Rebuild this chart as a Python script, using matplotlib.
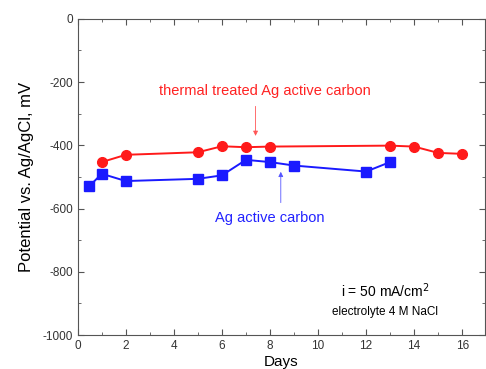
import matplotlib.pyplot as plt
from matplotlib.ticker import MultipleLocator

plt.rcParams['font.family'] = ['Liberation Sans', 'DejaVu Sans']
plt.rcParams['axes.unicode_minus'] = False

#values
red_days = [1, 2, 5, 6, 7, 8, 13, 14, 15, 16]
red_mv = [-453, -430, -422, -403, -406, -404, -401, -404, -424, -427]

blue_days = [0.47, 1, 2, 5, 6, 7, 8, 9, 12, 13]
blue_mv = [-530, -490, -513, -506, -495, -446, -453, -464, -483, -453]

fig = plt.figure(figsize=(4.86, 3.69), dpi=100)
ax = fig.add_axes([0.160, 0.092, 0.838, 0.857])

ax.plot(red_days, red_mv, color='#ff1a1a', marker='o', markersize=7, linewidth=1.4)
ax.plot(blue_days, blue_mv, color='#1a1aff', marker='s', markersize=6.5, linewidth=1.4)

ax.set_xlim(0, 16.95)
ax.set_ylim(-1000, 0)
ax.xaxis.set_major_locator(MultipleLocator(2))
ax.xaxis.set_minor_locator(MultipleLocator(1))
ax.yaxis.set_major_locator(MultipleLocator(200))
ax.yaxis.set_minor_locator(MultipleLocator(100))
ax.tick_params(which='both', direction='in', top=True, right=True, labelsize=8.5,
               color='#555555', labelcolor='#333333')
ax.tick_params(which='major', length=4)
ax.tick_params(which='minor', length=2)
for s in ax.spines.values():
    s.set_color('#555555')

ax.set_xlabel('Days', fontsize=11, labelpad=2)
ax.set_ylabel('Potential vs. Ag/AgCl, mV', fontsize=12, labelpad=6)

#annotations
ax.annotate('', xy=(7.4, -379), xytext=(7.4, -268),
            arrowprops=dict(arrowstyle='-|>', color='#ff5555', lw=0.6, mutation_scale=7))
ax.text(7.8, -227, 'thermal treated Ag active carbon', color='#ff2222', fontsize=10.5, ha='center', va='center')
ax.annotate('', xy=(8.45, -475), xytext=(8.45, -590),
            arrowprops=dict(arrowstyle='-|>', color='#5555ff', lw=0.6, mutation_scale=7))
ax.text(8.0, -630, 'Ag active carbon', color='#2222ff', fontsize=10.5, ha='center', va='center')

ax.text(12.8, -860, 'i = 50 mA/cm$^2$', fontsize=10, ha='center', va='center')
ax.text(12.8, -928, 'electrolyte 4 M NaCl', fontsize=8.5, ha='center', va='center')

fig.savefig('out.png', dpi=100)
